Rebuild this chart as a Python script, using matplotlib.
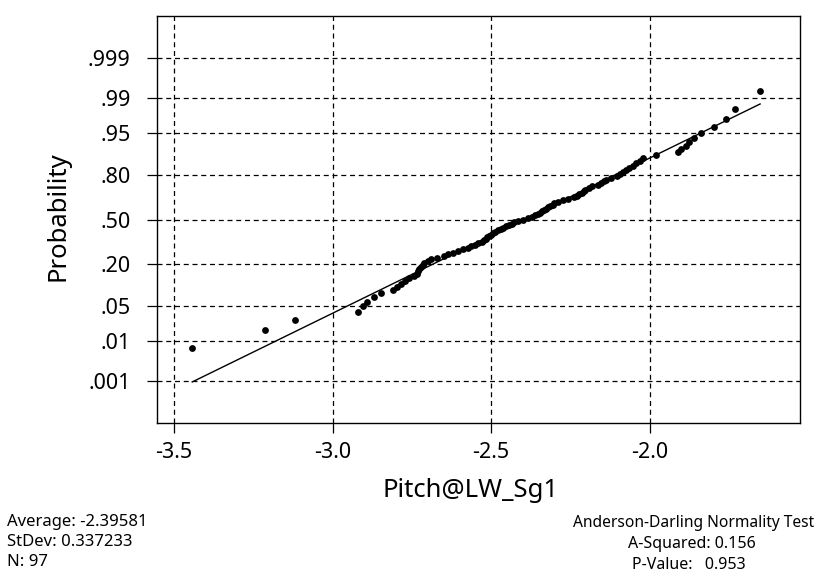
import numpy as np
import matplotlib
matplotlib.use("Agg")
import matplotlib.pyplot as plt
from statistics import NormalDist

pitch = [
    -3.443, -3.212, -3.120, -2.921, -2.905, -2.892, -2.870, -2.848, -2.810, -2.797,
    -2.785, -2.772, -2.759, -2.744, -2.734, -2.731, -2.728, -2.722, -2.715, -2.712,
    -2.700, -2.688, -2.672, -2.650, -2.636, -2.620, -2.604, -2.589, -2.573, -2.562,
    -2.551, -2.541, -2.530, -2.522, -2.516, -2.512, -2.506, -2.500, -2.494, -2.488,
    -2.478, -2.470, -2.462, -2.452, -2.444, -2.435, -2.428, -2.415, -2.399, -2.384,
    -2.372, -2.362, -2.352, -2.346, -2.340, -2.334, -2.328, -2.321, -2.313, -2.306,
    -2.300, -2.289, -2.274, -2.258, -2.237, -2.229, -2.221, -2.214, -2.208, -2.202,
    -2.190, -2.182, -2.164, -2.153, -2.145, -2.138, -2.122, -2.101, -2.092, -2.084,
    -2.075, -2.065, -2.053, -2.042, -2.031, -2.021, -1.979, -1.911, -1.901, -1.885,
    -1.874, -1.861, -1.838, -1.798, -1.759, -1.731, -1.651,
]

average = -2.39581
stdev = 0.337233
a_squared = 0.156
p_value = 0.953

prob_ticks = [0.001, 0.01, 0.05, 0.20, 0.50, 0.80, 0.95, 0.99, 0.999]
prob_labels = [".001", ".01", ".05", ".20", ".50", ".80", ".95", ".99", ".999"]
x_ticks = [-3.5, -3.0, -2.5, -2.0]
x_labels = ["-3.5", "-3.0", "-2.5", "-2.0"]

nd = NormalDist()
to_z = np.vectorize(
    lambda p: nd.inv_cdf(min(max(p, 1e-12), 1 - 1e-12)),
    otypes=[float]
)
to_p = np.vectorize(nd.cdf, otypes=[float])

n = len(pitch)
x = np.sort(np.array(pitch))
# median ranks used by the normal plot
ranks = np.arange(1, n + 1)
p_pos = (ranks - 0.3) / (n + 0.4)

plt.rcParams["font.family"] = ["Noto Sans", "DejaVu Sans"]

fig = plt.figure(figsize=(8.23, 5.76), dpi=100)
ax = fig.add_axes([0.1908, 0.2656, 0.7813, 0.7066])

ax.set_yscale("function", functions=(to_z, to_p))

ax.scatter(x, p_pos, s=24, c="black", zorder=3, linewidths=0)

fit_x = np.array([x.min(), x.max()])
fit_p = to_p((fit_x - average) / stdev)
ax.plot(fit_x, fit_p, color="black", linewidth=1.0, zorder=2)

ax.set_xlim(-3.554, -1.525)
ax.set_ylim(nd.cdf(-3.89), nd.cdf(3.89))

ax.set_xticks(x_ticks)
ax.set_xticklabels(x_labels)
ax.set_yticks(prob_ticks)
ax.set_yticklabels(prob_labels)
ax.yaxis.set_minor_locator(matplotlib.ticker.NullLocator())
ax.xaxis.set_minor_locator(matplotlib.ticker.NullLocator())

ax.grid(True, color="black", linestyle=(0, (4, 3)), linewidth=0.9)
ax.tick_params(direction="out", length=7, width=0.9, labelsize=15.5,
               colors="black")
ax.tick_params(axis="y", pad=12)
ax.tick_params(axis="x", pad=7)
for s in ax.spines.values():
    s.set_linewidth(1.0)

ax.set_xlabel("Pitch@LW_Sg1", fontsize=18.5, va="baseline")
ax.xaxis.set_label_coords(0.487, -0.182)
ax.set_ylabel("Probability", fontsize=18.5)
ax.yaxis.set_label_coords(-0.135, 0.509)

fig.text(0.008, 0.0868, f"Average: {average}", fontsize=12, va="baseline")
fig.text(0.008, 0.0521, f"StDev: {stdev}", fontsize=12, va="baseline")
fig.text(0.008, 0.0174, f"N: {n}", fontsize=12, va="baseline")

fig.text(0.6962, 0.085, "Anderson-Darling Normality Test", fontsize=11.2,
         va="baseline")
fig.text(0.763, 0.0486, f"A-Squared: {a_squared}", fontsize=11.5,
         va="baseline")
fig.text(0.768, 0.0122, f"P-Value:   {p_value}", fontsize=11.5,
         va="baseline")

fig.savefig("out.png", dpi=100)
